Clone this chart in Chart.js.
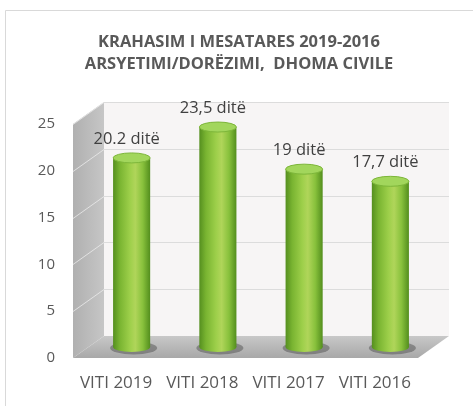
<!DOCTYPE html>
<html>
<head>
<meta charset="utf-8">
<script src="https://cdn.jsdelivr.net/npm/chart.js@4.4.1/dist/chart.umd.min.js"></script>
<style>
  html, body { margin: 0; padding: 0; background: #fff; }
  #wrap { width: 473px; height: 406px; }
</style>
</head>
<body>
<div id="wrap"><canvas id="avgChart" width="473" height="406"></canvas></div>
<script>
const years = ['VITI 2019', 'VITI 2018', 'VITI 2017', 'VITI 2016'];
const avgDays = [20.2, 23.5, 19, 17.7];
const dayLabels = ['20.2 ditë', '23,5 ditë', '19 ditë', '17,7 ditë'];
const yTicks = [0, 5, 10, 15, 20, 25];
const titleLines = ['KRAHASIM I MESATARES 2019-2016', 'ARSYETIMI/DORËZIMI,  DHOMA CIVILE'];

const FONT = '"Open Sans", sans-serif';

// depth of the 3d box (front edge -> back wall)
const DX = 31, DY = -22;
const BAR_PCT = 0.43;

function barHalf(chart) {
    const x = chart.scales.x;
    return (x.width / years.length) * BAR_PCT / 2;
}

function cylGradient(ctx, cx, hw) {
    const g = ctx.createLinearGradient(cx - hw, 0, cx + hw, 0);
    g.addColorStop(0, '#558f1f');
    g.addColorStop(0.18, '#79b431');
    g.addColorStop(0.45, '#9dcf4a');
    g.addColorStop(0.6, '#b0d55a');
    g.addColorStop(0.8, '#88c13c');
    g.addColorStop(1, '#538e1d');
    return g;
}

const box3d = {
    id: 'box3d',
    beforeDraw(chart) {
        const { ctx, chartArea: a, scales: { y } } = chart;
        const top = y.getPixelForValue(25), bot = y.getPixelForValue(0);
        ctx.save();
        ctx.fillStyle = '#fff';
        ctx.fillRect(0, 0, chart.width, chart.height);

        // outer frame
        ctx.strokeStyle = '#d9d9d9';
        ctx.lineWidth = 1;
        ctx.beginPath();
        ctx.moveTo(5.5, chart.height);
        ctx.lineTo(5.5, 10.5);
        ctx.lineTo(chart.width, 10.5);
        ctx.stroke();

        // back wall
        ctx.fillStyle = '#f7f5f5';
        ctx.fillRect(a.left + DX, top + DY, a.right - a.left, bot - top);

        // side wall
        const sg = ctx.createLinearGradient(a.left, 0, a.left + DX, 0);
        sg.addColorStop(0, '#b0b0b0');
        sg.addColorStop(1, '#c6c6c6');
        ctx.fillStyle = sg;
        ctx.beginPath();
        ctx.moveTo(a.left, bot);
        ctx.lineTo(a.left, top);
        ctx.lineTo(a.left + DX, top + DY);
        ctx.lineTo(a.left + DX, bot + DY);
        ctx.closePath();
        ctx.fill();

        // floor
        const fg = ctx.createLinearGradient(0, bot, 0, bot + DY);
        fg.addColorStop(0, '#a8a8a8');
        fg.addColorStop(1, '#c8c8c8');
        ctx.fillStyle = fg;
        ctx.beginPath();
        ctx.moveTo(a.left, bot);
        ctx.lineTo(a.right, bot);
        ctx.lineTo(a.right + DX, bot + DY);
        ctx.lineTo(a.left + DX, bot + DY);
        ctx.closePath();
        ctx.fill();

        // grid lines on the back wall and side wall
        yTicks.forEach(v => {
            if (v === 0) return;
            const py = Math.round(y.getPixelForValue(v)) + 0.5;
            ctx.strokeStyle = '#dcdcdc';
            ctx.beginPath();
            ctx.moveTo(a.left + DX, py + DY);
            ctx.lineTo(a.right + DX, py + DY);
            ctx.stroke();
            ctx.strokeStyle = 'rgba(235,235,235,0.8)';
            ctx.beginPath();
            ctx.moveTo(a.left, py);
            ctx.lineTo(a.left + DX, py + DY);
            ctx.stroke();
        });
        ctx.restore();
    },
    beforeDatasetsDraw(chart) {
        const { ctx } = chart;
        const hw = barHalf(chart);
        ctx.save();
        ctx.translate(DX / 2, DY / 2);
        chart.getDatasetMeta(0).data.forEach(bar => {
            ctx.fillStyle = 'rgba(70,70,70,0.45)';
            ctx.beginPath();
            ctx.ellipse(bar.x + 2, bar.base + 1, hw + 5, 6.5, 0, 0, Math.PI * 2);
            ctx.fill();
            ctx.fillStyle = cylGradient(ctx, bar.x, hw);
            ctx.beginPath();
            ctx.ellipse(bar.x, bar.base, hw, 5, 0, 0, Math.PI * 2);
            ctx.fill();
        });
    },
    afterDatasetsDraw(chart) {
        const { ctx } = chart;
        const hw = barHalf(chart);
        chart.getDatasetMeta(0).data.forEach((bar, i) => {
            ctx.fillStyle = '#a2d65c';
            ctx.strokeStyle = '#7db63a';
            ctx.lineWidth = 1;
            ctx.beginPath();
            ctx.ellipse(bar.x, bar.y, hw, 5, 0, 0, Math.PI * 2);
            ctx.fill();
            ctx.stroke();

            ctx.fillStyle = '#404040';
            ctx.font = '16.5px ' + FONT;
            ctx.textAlign = 'center';
            ctx.textBaseline = 'middle';
            ctx.fillText(dayLabels[i], bar.x - 5, bar.y - 19);
        });
        ctx.restore();

        // title
        ctx.save();
        ctx.fillStyle = '#595959';
        ctx.font = 'bold 16.5px ' + FONT;
        ctx.textAlign = 'center';
        ctx.textBaseline = 'middle';
        titleLines.forEach((t, i) => ctx.fillText(t, 239, 42 + i * 22));
        ctx.restore();
    }
};

new Chart(document.getElementById('avgChart').getContext('2d'), {
    type: 'bar',
    data: {
        labels: years,
        datasets: [{
            data: avgDays,
            clip: false,
            categoryPercentage: 1,
            barPercentage: BAR_PCT,
            borderWidth: 0,
            backgroundColor(c) {
                const chart = c.chart;
                if (!chart.chartArea) return '#8cc63f';
                const cx = chart.scales.x.getPixelForValue(c.dataIndex);
                return cylGradient(chart.ctx, cx, barHalf(chart));
            }
        }]
    },
    options: {
        responsive: false,
        animation: false,
        layout: { padding: { top: 124, right: 55, bottom: 0, left: 0 } },
        plugins: {
            legend: { display: false },
            tooltip: { enabled: false },
            title: { display: false }
        },
        scales: {
            x: {
                grid: { display: false, drawTicks: false },
                border: { display: false },
                ticks: { color: '#595959', font: { family: FONT, size: 17 }, padding: 15 },
                afterFit(s) { s.height = 48; }
            },
            y: {
                min: 0,
                max: 25,
                grid: { display: false, drawTicks: false },
                border: { display: false },
                ticks: { stepSize: 5, color: '#595959', font: { family: FONT, size: 15 }, padding: 18 },
                afterFit(s) { s.width = 73; }
            }
        }
    },
    plugins: [box3d]
});
</script>
</body>
</html>
